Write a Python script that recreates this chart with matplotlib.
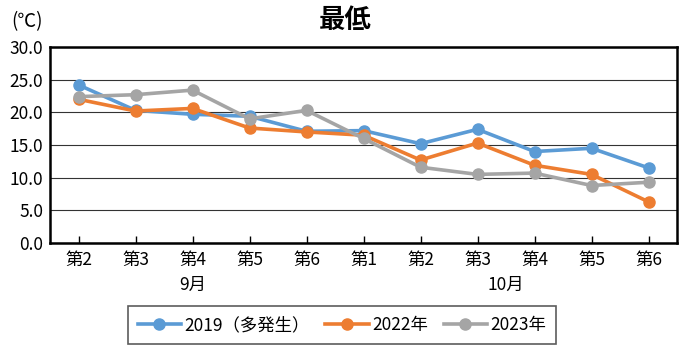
import matplotlib
matplotlib.use('Agg')
import matplotlib.pyplot as plt

plt.rcParams['font.family'] = ['Noto Sans CJK JP', 'DejaVu Sans']

weeks = ['第2', '第3', '第4', '第5', '第6', '第1', '第2', '第3', '第4', '第5', '第6']
months = ['9月', '10月']
month_span = [(0, 4), (5, 10)]

y2019 = [24.2, 20.3, 19.7, 19.4, 17.1, 17.2, 15.2, 17.4, 14.0, 14.5, 11.5]
y2022 = [22.0, 20.2, 20.6, 17.6, 17.0, 16.5, 12.7, 15.3, 11.9, 10.5, 6.3]
y2023 = [22.4, 22.7, 23.4, 19.0, 20.3, 16.0, 11.6, 10.5, 10.7, 8.8, 9.3]
labels = ['2019（多発生）', '2022年', '2023年']
colors = ['#5B9BD5', '#ED7D31', '#A5A5A5']

fig = plt.figure(figsize=(6.8, 3.52), dpi=100)
ax = fig.add_axes([50/680, 1 - 243/352, 627/680, 196/352])

x = list(range(len(weeks)))
for ys, lab, c in zip([y2019, y2022, y2023], labels, colors):
    ax.plot(x, ys, color=c, lw=2.6, marker='o', ms=8, label=lab, solid_joinstyle='round')

ax.set_xlim(-0.5, len(weeks) - 0.5)
ax.set_ylim(0, 30)
ax.set_yticks([0, 5, 10, 15, 20, 25, 30])
ax.set_yticklabels([f'{v:.1f}' for v in [0, 5, 10, 15, 20, 25, 30]], fontsize=12.5)
ax.set_xticks(x)
ax.set_xticklabels(weeks, fontsize=12.5)
ax.tick_params(axis='y', length=0, pad=5)
ax.tick_params(axis='x', length=5, width=1, direction='in', pad=6)
ax.grid(axis='y', color='#333333', lw=0.8)
ax.set_axisbelow(True)
for s in ax.spines.values():
    s.set_linewidth(1.8)
    s.set_color('black')

for m, (a, b) in zip(months, month_span):
    ax.text((a + b) / 2, -0.215, m, transform=ax.get_xaxis_transform(),
            ha='center', va='center', fontsize=12.5)

fig.text(345/680, 1 - 21/352, '最低', ha='center', va='center', fontsize=19, fontweight='bold')
fig.text(27/680, 1 - 22/352, '(℃)', ha='center', va='center', fontsize=13.5)

leg = fig.legend(loc='center', bbox_to_anchor=(342/680, 1 - 325/352), ncol=3,
                 fontsize=12.5, frameon=True, fancybox=False, edgecolor='#333333',
                 handlelength=2.5, columnspacing=0.9, handletextpad=0.2,
                 borderpad=0.55)
leg.get_frame().set_linewidth(1.2)

fig.savefig('out.png', dpi=100)
